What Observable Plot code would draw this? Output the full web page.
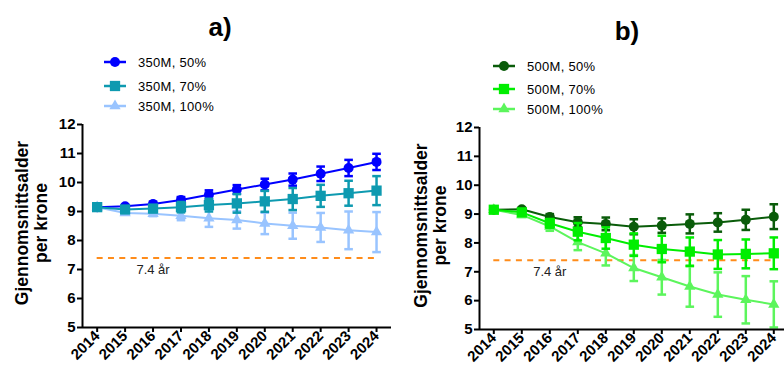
<!DOCTYPE html>
<html>
<head>
<meta charset="utf-8">
<script src="https://cdn.jsdelivr.net/npm/d3@7"></script>
<script src="https://cdn.jsdelivr.net/npm/@observablehq/plot@0.6"></script>
<style>
  html, body { margin: 0; padding: 0; background: #fff; }
  body { width: 784px; height: 367px; overflow: hidden; font-family: "Liberation Sans", Arial, sans-serif; }
  #wrap { display: flex; width: 784px; height: 367px; }
  .panel { position: relative; width: 392px; height: 367px; }
  .panel svg.plot { position: absolute; left: 0; top: 0; overflow: visible; }
  .title { position: absolute; font-weight: bold; font-size: 26px; line-height: 1; transform: translateX(-50%); }
  .legend { position: absolute; font-size: 13px; }
  .legend .item { position: absolute; display: flex; align-items: center; white-space: nowrap; }
  .legend .item span { margin-left: 12px; letter-spacing: 0.3px; }
</style>
</head>
<body>
<div id="wrap"></div>
<script>
// ---- data ----
const years = [2014, 2015, 2016, 2017, 2018, 2019, 2020, 2021, 2022, 2023, 2024];
const yTicks = [5, 6, 7, 8, 9, 10, 11, 12];
const target = 7.4;
const targetLabel = "7.4 år";
const yLabel = "Gjennomsnittsalder\nper krone";

const a50  = [9.15, 9.18, 9.26, 9.40, 9.58, 9.76, 9.93, 10.10, 10.30, 10.50, 10.71];
const a50e = [0, 0.05, 0.08, 0.10, 0.15, 0.15, 0.20, 0.21, 0.25, 0.28, 0.28];
const a70  = [9.15, 9.07, 9.10, 9.15, 9.22, 9.28, 9.35, 9.43, 9.54, 9.63, 9.72];
const a70e = [0, 0.07, 0.12, 0.18, 0.22, 0.32, 0.36, 0.38, 0.38, 0.43, 0.50];
const a100  = [9.15, 8.95, 8.92, 8.85, 8.77, 8.71, 8.59, 8.51, 8.45, 8.35, 8.29];
const a100e = [0, 0.06, 0.08, 0.15, 0.30, 0.30, 0.37, 0.45, 0.50, 0.65, 0.69];

const b50  = [9.15, 9.17, 8.90, 8.72, 8.66, 8.56, 8.60, 8.66, 8.71, 8.80, 8.91];
const b50e = [0, 0.05, 0.10, 0.17, 0.22, 0.26, 0.25, 0.33, 0.32, 0.35, 0.43];
const b70  = [9.15, 9.06, 8.68, 8.39, 8.17, 7.94, 7.79, 7.70, 7.60, 7.62, 7.64];
const b70e = [0, 0.07, 0.15, 0.30, 0.37, 0.39, 0.46, 0.49, 0.50, 0.50, 0.55];
const b100  = [9.15, 8.97, 8.57, 8.03, 7.64, 7.13, 6.81, 6.49, 6.21, 6.03, 5.87];
const b100e = [0, 0.07, 0.15, 0.28, 0.42, 0.45, 0.60, 0.70, 0.77, 0.82, 0.80];

const panels = [
  {
    title: "a)",
    series: [
      {name: "350M, 50%",  values: a50,  errors: a50e,  color: "#0000ff", symbol: "circle", r: 5},
      {name: "350M, 70%",  values: a70,  errors: a70e,  color: "#0e9ab0", symbol: "square", r: 5.8},
      {name: "350M, 100%", values: a100, errors: a100e, color: "#99c4ff", symbol: "triangle", r: 4.2}
    ],
    order: [2, 0, 1],
    layout: {mL: 82, mR: 1, mT: 124, mB: 40, padL: 14.7, padR: 15, titleX: 220, titleY: 14, legX: 104, legY: [62, 86, 106], labelDx: -51}
  },
  {
    title: "b)",
    series: [
      {name: "500M, 50%",  values: b50,  errors: b50e,  color: "#0a5c0a", symbol: "circle", r: 5},
      {name: "500M, 70%",  values: b70,  errors: b70e,  color: "#00ee00", symbol: "square", r: 5.8},
      {name: "500M, 100%", values: b100, errors: b100e, color: "#5cf55c", symbol: "triangle", r: 4.2}
    ],
    order: [0, 2, 1],
    layout: {mL: 87, mR: 0, mT: 127, mB: 38, padL: 14.3, padR: 10.7, titleX: 235, titleY: 18, legX: 101, legY: [66, 89, 109], labelDx: -49}
  }
];

const cap = {
  draw(ctx, size) {
    const w = Math.sqrt(size / Math.PI);
    ctx.moveTo(-w, 0);
    ctx.lineTo(w, 0);
  }
};

const wrap = document.getElementById("wrap");
const W = 392, H = 367, PX_PER_YEAR = 28;

for (const p of panels) {
  const L = p.layout;
  const rows = p.series.map(s => years.map((year, i) => ({year, v: s.values[i], e: s.errors[i], name: s.name})));
  const x0 = years[0] - L.padL / PX_PER_YEAR;
  const x1 = years[years.length - 1] + L.padR / PX_PER_YEAR;

  const marks = [
    Plot.ruleY([target], {x1: years[0], x2: years[years.length - 1], stroke: "#ff8c1a", strokeWidth: 2, strokeDasharray: "6,5.3"}),
    Plot.text([targetLabel], {x: 2016, y: target, text: d => d, dy: 12, fontSize: 13, fill: "#222"})
  ];
  for (const k of p.order) {
    const s = p.series[k];
    const d = rows[k];
    const de = d.filter(r => r.e > 0);
    marks.push(
      Plot.line(d, {x: "year", y: "v", stroke: s.color, strokeWidth: 2}),
      Plot.ruleX(de, {x: "year", y1: r => r.v - r.e, y2: r => r.v + r.e, stroke: s.color, strokeWidth: 2.5}),
      Plot.dot(de, {x: "year", y: r => r.v + r.e, symbol: cap, r: 4.3, stroke: s.color, strokeWidth: 2.5}),
      Plot.dot(de, {x: "year", y: r => r.v - r.e, symbol: cap, r: 4.3, stroke: s.color, strokeWidth: 2.5}),
      Plot.dot(d, {x: "year", y: "v", symbol: s.symbol, r: s.r, fill: s.color})
    );
  }
  marks.push(
    Plot.ruleX([x0], {stroke: "#000", strokeWidth: 2}),
    Plot.ruleY([yTicks[0]], {stroke: "#000", strokeWidth: 2}),
    Plot.axisY({ticks: yTicks, tickSize: 5, tickPadding: 2, fontSize: 15, fontWeight: "bold", tickFormat: d => String(d), label: null, strokeWidth: 2}),
    Plot.axisX({ticks: years, tickSize: 5, tickPadding: 1, tickRotate: -45, fontSize: 15, fontWeight: "bold", tickFormat: d => String(d), label: null, strokeWidth: 2}),
    Plot.text([yLabel], {frameAnchor: "left", textAnchor: "middle", rotate: -90, dx: L.labelDx, dy: -3, text: d => d, fontSize: 17.5, fontWeight: "bold", lineHeight: 1.05, fill: "#000"})
  );

  const chart = Plot.plot({
    width: W,
    height: H,
    marginLeft: L.mL,
    marginRight: L.mR,
    marginTop: L.mT,
    marginBottom: L.mB,
    x: {domain: [x0, x1], axis: null},
    y: {domain: [yTicks[0], yTicks[yTicks.length - 1]], axis: null},
    style: {fontFamily: "Liberation Sans, Arial, sans-serif", color: "#000", background: "transparent", overflow: "visible"},
    marks
  });
  chart.classList.add("plot");

  const panel = document.createElement("div");
  panel.className = "panel";
  panel.appendChild(chart);

  const t = document.createElement("div");
  t.className = "title";
  t.textContent = p.title;
  t.style.left = L.titleX + "px";
  t.style.top = L.titleY + "px";
  panel.appendChild(t);

  const leg = document.createElement("div");
  leg.className = "legend";
  p.series.forEach((s, i) => {
    const item = document.createElement("div");
    item.className = "item";
    item.style.left = L.legX + "px";
    item.style.top = (L.legY[i] - 8) + "px";
    const svg = d3.create("svg").attr("width", 22).attr("height", 16);
    svg.append("line").attr("x1", 0).attr("x2", 22).attr("y1", 8).attr("y2", 8).attr("stroke", s.color).attr("stroke-width", 2.5);
    const sym = {circle: d3.symbolCircle, square: d3.symbolSquare, triangle: d3.symbolTriangle}[s.symbol];
    svg.append("path").attr("d", d3.symbol(sym, Math.PI * s.r * s.r)()).attr("transform", "translate(11,8)").attr("fill", s.color);
    item.appendChild(svg.node());
    const span = document.createElement("span");
    span.textContent = s.name;
    item.appendChild(span);
    leg.appendChild(item);
  });
  panel.appendChild(leg);
  wrap.appendChild(panel);
}
</script>
</body>
</html>
